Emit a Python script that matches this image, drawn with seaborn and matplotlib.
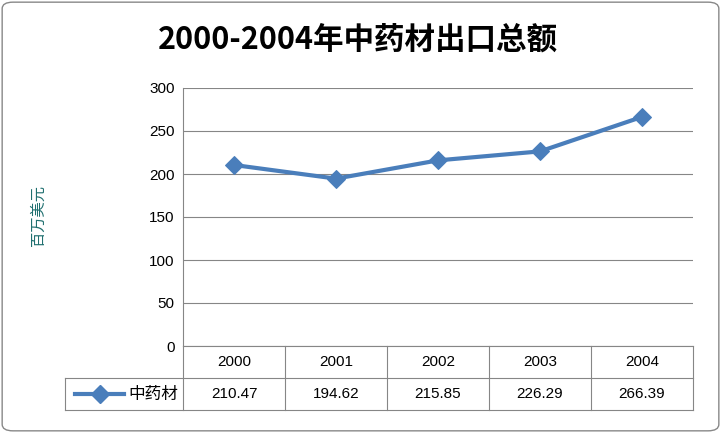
import matplotlib
matplotlib.use("Agg")
import matplotlib.pyplot as plt
import matplotlib.transforms as mtransforms
from matplotlib import font_manager
from matplotlib.patches import FancyBboxPatch
import seaborn as sns
import pandas as pd

years = ["2000", "2001", "2002", "2003", "2004"]
values = [210.47, 194.62, 215.85, 226.29, 266.39]
series_name = "中药材"
title = "2000-2004年中药材出口总额"
ylabel = "百万美元"
yticks = [0, 50, 100, 150, 200, 250, 300]

names = sorted({f.name for f in font_manager.fontManager.ttflist if "CJK" in f.name})
pref = [n for n in ["Noto Sans CJK SC", "Noto Sans CJK JP", "Noto Sans CJK TC", "Noto Sans CJK KR"] if n in names]
cjk = pref[0] if pref else (names[0] if names else "DejaVu Sans")

plt.rcParams["font.family"] = ["Liberation Sans", cjk]
W, H = 721, 433
fig = plt.figure(figsize=(W/100, H/100), dpi=100)
fig.patches.append(FancyBboxPatch((0.003, 0.005), 0.994, 0.99, boxstyle="round,pad=0,rounding_size=0.015",
                                  transform=fig.transFigure, fill=False, ec="#888888", lw=1))
ax = fig.add_axes([183/W, (H-346)/H, 510/W, 258/H])
df = pd.DataFrame({"x": range(len(years)), "v": values})
color = "#4a7ebb"
sns.lineplot(data=df, x="x", y="v", ax=ax, color=color, lw=3, marker="D", markersize=9,
             markeredgecolor=color)
ax.set_xlim(-0.5, len(years)-0.5)
ax.set_ylim(0, 300)
ax.set_yticks(yticks)
ax.set_yticklabels([str(t) for t in yticks], fontsize=11)
ax.set_xticks([])
ax.set_xlabel(""); ax.set_ylabel("")
ax.grid(axis="y", color="#868686", lw=0.8)
for s in ["top", "right", "bottom"]:
    ax.spines[s].set_visible(False)
ax.spines["left"].set_color("#868686")
ax.tick_params(axis="y", length=0, pad=6)

tr = mtransforms.blended_transform_factory(ax.transData, ax.transAxes)
r = 32/258
lc = "#868686"
lx = -0.5 - 118/510*len(years)
n = len(years)
kw = dict(transform=tr, clip_on=False, color=lc, lw=0.8)
ax.plot([-0.5, n-0.5], [0, 0], **kw)
ax.plot([lx, n-0.5], [-r, -r], **kw)
ax.plot([lx, n-0.5], [-2*r, -2*r], **kw)
ax.plot([lx, lx], [-r, -2*r], **kw)
for i in range(n+1):
    ax.plot([i-0.5, i-0.5], [0, -2*r], **kw)
for i, (y, v) in enumerate(zip(years, values)):
    ax.text(i, -r/2, y, transform=tr, ha="center", va="center", fontsize=11)
    ax.text(i, -1.5*r, f"{v:.2f}", transform=tr, ha="center", va="center", fontsize=11)
ax.plot([lx+0.1, lx+0.58], [-1.5*r]*2, transform=tr, clip_on=False, color=color, lw=3)
ax.plot([lx+0.34], [-1.5*r], transform=tr, clip_on=False, color=color, marker="D", markersize=9)
ax.text(-0.55, -1.5*r, series_name, transform=tr, ha="right", va="center", fontsize=12,
        fontfamily=cjk)

fig.text(358/W, 1-40/H, title, ha="center", va="center", fontsize=22, fontweight="bold",
         fontfamily=cjk)
fig.text(38/W, 1-215/H, ylabel, rotation=90, ha="center", va="center", fontsize=11,
         color="#1f6f6f", fontfamily=cjk)
fig.savefig("out.png", dpi=100)
